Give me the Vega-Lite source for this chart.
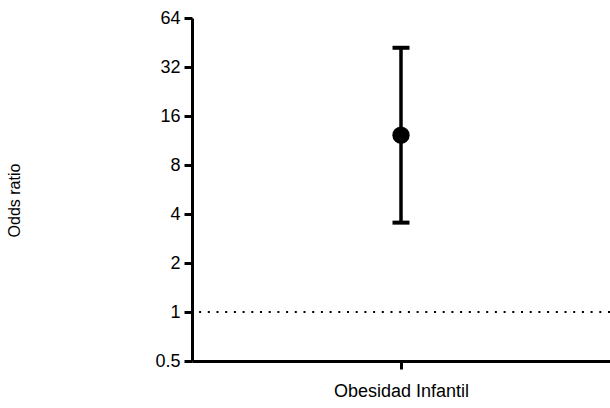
{
  "$schema": "https://vega.github.io/schema/vega-lite/v6.json",
  "width": 418,
  "height": 343,
  "autosize": {"type": "none"},
  "padding": {"left": 192, "top": 18, "right": 0, "bottom": 47},
  "background": "white",
  "config": {
    "view": {"stroke": null},
    "font": "Liberation Sans",
    "axis": {"grid": false, "domainColor": "black", "tickColor": "black", "labelColor": "black", "titleColor": "black"}
  },
  "data": {"values": [{"outcome": "Obesidad Infantil", "or": 12.2, "lo": 3.54, "hi": 42}]},
  "encoding": {
    "x": {"field": "outcome", "type": "nominal", "scale": {"type": "point", "padding": 0.5},
      "axis": {"title": null, "labelAngle": 0, "labelFontSize": 18, "labelPadding": 13, "tickSize": 8, "tickWidth": 3, "domainWidth": 3, "labelFont": "Liberation Sans"}}
  },
  "layer": [
    {
      "mark": {"type": "rule", "strokeDash": [2, 6.7], "strokeWidth": 2, "color": "black"},
      "encoding": {"x": null, "y": {"datum": 1, "type": "quantitative"}}
    },
    {
      "mark": {"type": "rule", "strokeWidth": 3.5, "color": "black"},
      "encoding": {
        "y": {"field": "lo", "type": "quantitative", "scale": {"type": "log", "base": 2, "domain": [0.5, 64], "nice": false},
          "axis": {"title": "Odds ratio", "values": [0.5, 1, 2, 4, 8, 16, 32, 64], "labelFontSize": 18, "labelPadding": 4, "tickSize": 8, "tickWidth": 3, "domainWidth": 3, "titleFontSize": 16, "titleFontWeight": "normal", "titleX": -170, "titleY": 182, "labelFlush": false}},
        "y2": {"field": "hi"}
      }
    },
    {
      "mark": {"type": "tick", "thickness": 4, "size": 17, "color": "black", "opacity": 1, "orient": "horizontal"},
      "encoding": {"y": {"field": "lo", "type": "quantitative"}}
    },
    {
      "mark": {"type": "tick", "thickness": 4, "size": 17, "color": "black", "opacity": 1, "orient": "horizontal"},
      "encoding": {"y": {"field": "hi", "type": "quantitative"}}
    },
    {
      "mark": {"type": "point", "filled": true, "size": 300, "color": "black", "opacity": 1, "shape": "circle"},
      "encoding": {"y": {"field": "or", "type": "quantitative"}}
    }
  ]
}
